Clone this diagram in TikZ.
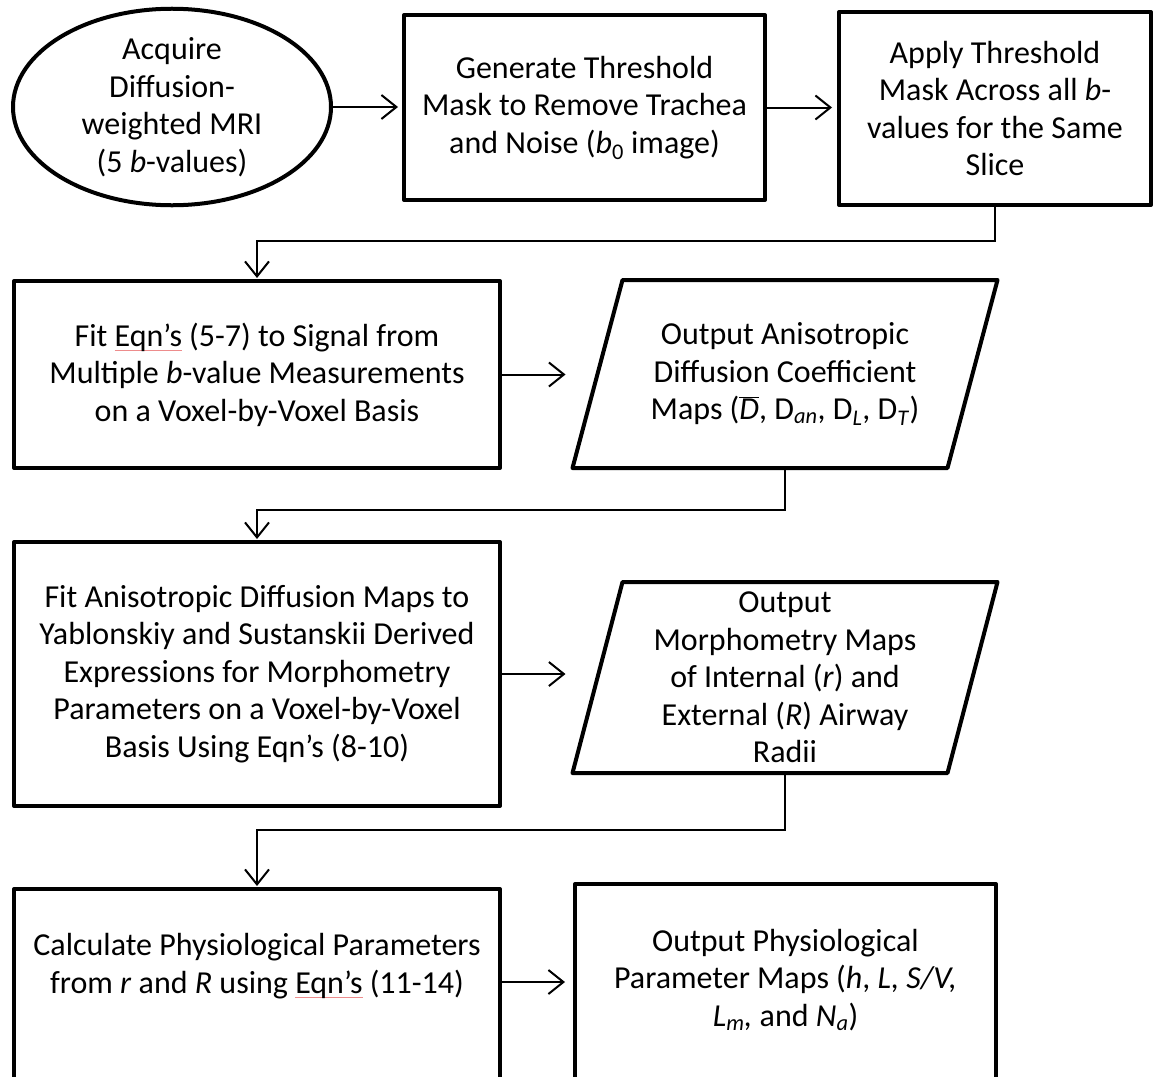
\documentclass[tikz,border=0pt]{standalone}
\usepackage{fontspec}
\setmainfont{Carlito}
\usetikzlibrary{shapes.geometric,arrows.meta,calc}
\newcommand\redul[1]{\setbox0\hbox{#1}\rlap{\color[rgb]{0.93,0.55,0.55}\rule[-5pt]{\wd0}{0.9pt}}\copy0\relax}
\begin{document}
\begin{tikzpicture}[x=1pt,y=-1pt,
  font=\fontsize{32}{37.5}\selectfont,
  box/.style={draw, line width=4pt, line join=round, align=center, inner sep=0pt, outer sep=0pt},
  txtbox/.style={align=center, inner sep=0pt, outer sep=0pt},
  boxline/.style={line width=4pt, line join=round},
  conn/.style={line width=2pt, -{Straight Barb[length=15pt,width=24pt]}}]
\useasboundingbox (0,0) rectangle (1155,1076);
\fill[white] (0,0) rectangle (1155,1076);

\node[box, ellipse, minimum width=318pt, minimum height=195pt] (ell) at (172,107)
  {Acquire\\Diffusion-\\weighted MRI\\(5 \textit{b}-values)};
\node[box, minimum width=361pt, minimum height=185pt] (b2) at (584.5,107.5)
  {Generate Threshold\\Mask to Remove Trachea\\and Noise (\textit{b}\textsubscript{0} image)};
\node[box, minimum width=312pt, minimum height=193pt] (b3) at (995,108.5)
  {Apply Threshold\\Mask Across all \textit{b}-\\values for the Same\\Slice};

\node[box, minimum width=486pt, minimum height=187pt] (b4) at (257,374.5)
  {Fit \redul{Eqn’s} (5-7) to Signal from\\Multiple \textit{b}-value Measurements\\on a Voxel-by-Voxel Basis};
\node[txtbox, minimum width=375pt, minimum height=188pt] (p1) at (785,374)
  {Output Anisotropic\\Diffusion Coefficient\\Maps ($\overline{\mbox{\textit{D}}}$, D\textsubscript{\textit{an}}, D\textsubscript{\textit{L}}, D\textsubscript{\textit{T}})};
\draw[boxline] ($(p1.north west)+(25,0)$) -- ($(p1.north east)+(25,0)$) -- ($(p1.south east)+(-25,0)$) -- ($(p1.south west)+(-25,0)$) -- cycle;

\node[box, minimum width=486pt, minimum height=264pt] (b5) at (257,674)
  {Fit Anisotropic Diffusion Maps to\\Yablonskiy and Sustanskii Derived\\Expressions for Morphometry\\Parameters on a Voxel-by-Voxel\\Basis Using Eqn’s (8-10)};
\node[txtbox, minimum width=375pt, minimum height=191pt] (p2) at (785,677.5)
  {Output\\Morphometry Maps\\of Internal (\textit{r}) and\\External (\textit{R}) Airway\\Radii};
\draw[boxline] ($(p2.north west)+(25,0)$) -- ($(p2.north east)+(25,0)$) -- ($(p2.south east)+(-25,0)$) -- ($(p2.south west)+(-25,0)$) -- cycle;

\node[txtbox, minimum width=486pt, minimum height=154pt] (b6) at (257,966)
  {Calculate Physiological Parameters\\from \textit{r} and \textit{R} using \redul{Eqn’s} (11-14)};
\draw[boxline] ($(b6.south west)+(0,80)$) -- (b6.north west) -- (b6.north east) -- ($(b6.south east)+(0,80)$);
\node[txtbox, minimum width=421pt, minimum height=192pt] (b7) at (785.5,980)
  {Output Physiological\\Parameter Maps (\textit{h}, \textit{L, S/V,}\\\textit{L\textsubscript{m},} and \textit{N\textsubscript{a}})};
\draw[boxline] ($(b7.south west)+(0,80)$) -- (b7.north west) -- (b7.north east) -- ($(b7.south east)+(0,80)$);

\draw[conn, shorten >=6pt] (ell.east) -- (ell.east -| b2.west);
\draw[conn, shorten >=7pt] (b2.east) -- (b2.east -| b3.west);
\draw[conn, shorten >=3pt] (b3.south) -- ++(0,36) -| (b4.north);
\draw[conn, shorten >=32pt] (b4.east) -- (b4.east -| p1.west);
\draw[conn, shorten >=3pt] (p1.south) -- ++(0,42) -| (b5.north);
\draw[conn, shorten >=32pt] (b5.east) -- (b5.east -| p2.west);
\draw[conn, shorten >=3pt] (p2.south) -- ++(0,57) -| (b6.north);
\draw[conn, shorten >=10pt] ([yshift=-16pt]b6.east) -- ([yshift=-16pt]b6.east -| b7.west);
\end{tikzpicture}
\end{document}
